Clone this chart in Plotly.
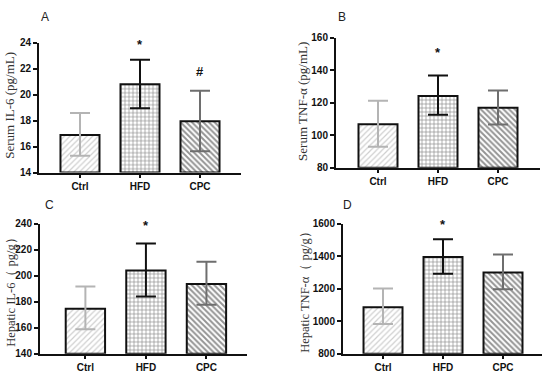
import plotly.graph_objects as go

W, H = 550, 382

groups = ["Ctrl", "HFD", "CPC"]

# Panel A: Serum IL-6
a_mean = [16.9, 20.8, 17.95]
a_up = [18.6, 22.7, 20.3]
a_lo = [15.3, 18.95, 15.65]
# Panel B: Serum TNF-a
b_mean = [106.8, 124.3, 117.0]
b_up = [121.3, 136.8, 127.6]
b_lo = [93.0, 112.6, 106.6]
# Panel C: Hepatic IL-6
c_mean = [174.7, 204.2, 193.8]
c_up = [191.7, 225.0, 210.9]
c_lo = [158.8, 184.1, 177.8]
# Panel D: Hepatic TNF-a
d_mean = [1087, 1396, 1301]
d_up = [1202, 1505, 1411]
d_lo = [983, 1293, 1198]

titles = ["Serum IL-6 (pg/mL)", "Serum TNF-α (pg/mL)", "Hepatic IL-6（ pg/g）", "Hepatic TNF-α（ pg/g）"]
letters = ["A", "B", "C", "D"]
yranges = [[14, 24], [80, 160], [140, 240], [800, 1600]]
ydticks = [2, 20, 20, 200]

# marks: (panel index, group, text, y value)
marks = [(0, "HFD", "*", 23.9), (0, "CPC", "#", 21.8), (1, "HFD", "*", 151),
         (2, "HFD", "*", 239), (3, "HFD", "*", 1595)]

# layout (window pixel geometry)
px_x = [(39, 241), (336, 540), (40, 247), (343, 542)]
px_y = [(38, 172), (33, 167), (225, 359), (225, 359)]
xr = [[-0.683, 2.683], [-0.70, 2.70], [-0.75, 2.67], [-0.667, 2.65]]
title_pos = [(10, 103), (303, 99), (11, 292), (305, 293)]
title_size = [13, 13, 12.5, 12.5]
letter_pos = [(45, 11), (342, 11), (49, 205), (347, 205)]

means = [a_mean, b_mean, c_mean, d_mean]
ups = [a_up, b_up, c_up, d_up]
los = [a_lo, b_lo, c_lo, d_lo]

shapes_pat = ["/", "+", "\\"]
fg = ["#a0a0a0", "#111111", "#2a2a2a"]
err_col = ["#b4b4b4", "#111111", "#6e6e6e"]
solid = [0.3, 0.3, 0.5]


def fx(px):
    return px / W


def fy(py):
    return 1 - py / H


fig = go.Figure()
annos = []
tf = dict(family="Arial, Liberation Sans, sans-serif", size=10, color="#111", weight="bold")

for p in range(4):
    xa = "x" if p == 0 else f"x{p+1}"
    ya = "y" if p == 0 else f"y{p+1}"
    for g in range(3):
        m = means[p][g]
        fig.add_trace(go.Bar(
            x=[groups[g]], y=[m - yranges[p][0]], base=yranges[p][0],
            width=0.65, xaxis=xa, yaxis=ya, showlegend=False,
            marker=dict(color="white",
                        line=dict(color="#111", width=2),
                        pattern=dict(shape=shapes_pat[g], fgcolor=fg[g], bgcolor="white",
                                     size=4, solidity=solid[g])),
        ))
        fig.add_trace(go.Scatter(
            x=[groups[g]], y=[m], xaxis=xa, yaxis=ya, mode="markers",
            marker=dict(size=0.1, color="rgba(0,0,0,0)"), showlegend=False,
            error_y=dict(type="data", symmetric=False,
                         array=[ups[p][g] - m], arrayminus=[m - los[p][g]],
                         color=err_col[g], thickness=2, width=10),
        ))
    x0, x1 = px_x[p]
    y0, y1 = px_y[p]
    xkey = "xaxis" if p == 0 else f"xaxis{p+1}"
    ykey = "yaxis" if p == 0 else f"yaxis{p+1}"
    fig.layout[xkey] = dict(domain=[fx(x0), fx(x1)], anchor=ya, range=xr[p],
                            type="category", categoryorder="array", categoryarray=groups,
                            showline=True, linecolor="#111", linewidth=2,
                            ticks="outside", ticklen=3, tickwidth=1.5, tickcolor="#111",
                            showgrid=False, zeroline=False, fixedrange=True, tickfont=tf)
    fig.layout[ykey] = dict(domain=[fy(y1), fy(y0)], anchor=xa, range=yranges[p],
                            dtick=ydticks[p], tick0=yranges[p][0],
                            showline=True, linecolor="#111", linewidth=2,
                            ticks="outside", ticklen=4, tickwidth=2, tickcolor="#111",
                            showgrid=False, zeroline=False, tickfont=tf)
    tx, ty = title_pos[p]
    annos.append(dict(text=titles[p], x=fx(tx), y=fy(ty), xref="paper", yref="paper",
                      textangle=-90, showarrow=False, xanchor="center", yanchor="middle",
                      font=dict(family="Liberation Serif, Times New Roman, serif",
                                size=title_size[p], color="#333")))
    lx, ly = letter_pos[p]
    annos.append(dict(text=letters[p], x=fx(lx), y=fy(ly), xref="paper", yref="paper",
                      showarrow=False, xanchor="center", yanchor="middle",
                      font=dict(family="Arial, Liberation Sans, sans-serif", size=12, color="#222")))

for (p, g, t, v) in marks:
    xa = "x" if p == 0 else f"x{p+1}"
    ya = "y" if p == 0 else f"y{p+1}"
    annos.append(dict(text=t, x=g, y=v, xref=xa, yref=ya, showarrow=False,
                      xanchor="center", yanchor="middle",
                      font=dict(family="Arial, Liberation Sans, sans-serif", size=13,
                                color="#111", weight="bold")))

fig.update_layout(width=W, height=H, autosize=False,
                  margin=dict(l=0, r=0, t=0, b=0),
                  paper_bgcolor="white", plot_bgcolor="white",
                  annotations=annos, barmode="overlay")

# remove the browser's default page margin so the figure sits at the window origin
fig.write_html("out.html", config={"displayModeBar": False},
               post_script="document.body.style.margin='0';document.body.style.overflow='hidden';")
